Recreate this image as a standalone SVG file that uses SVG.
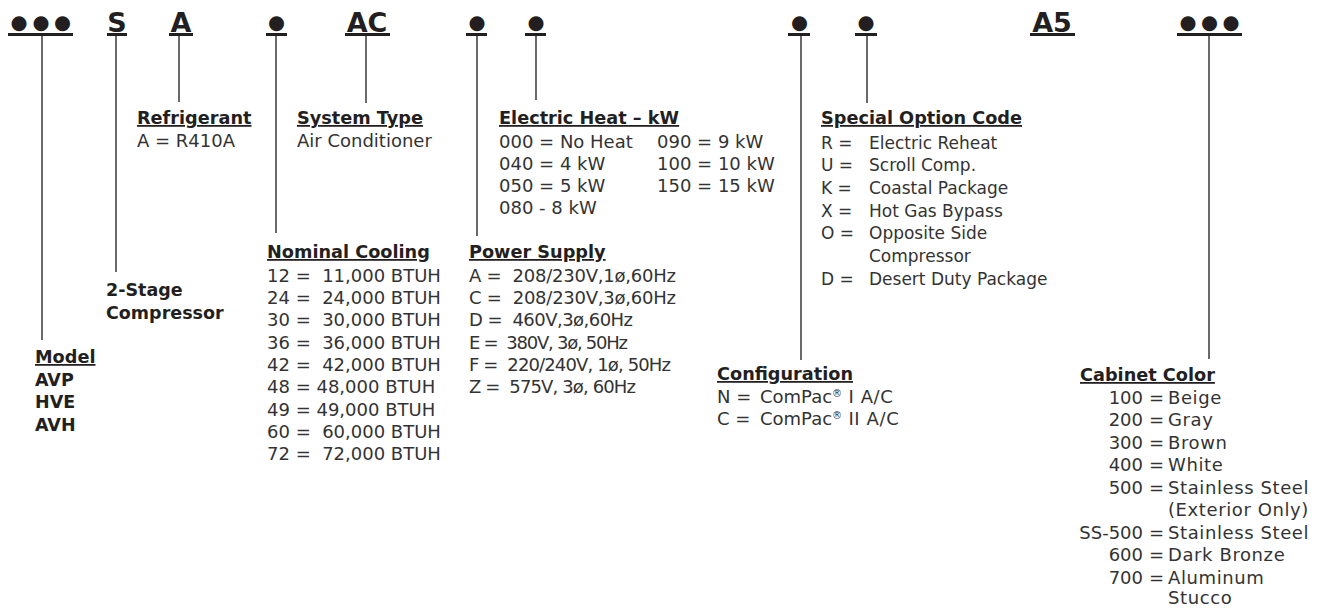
<svg xmlns="http://www.w3.org/2000/svg" width="1325" height="608" viewBox="0 0 1325 608">
<style>
.code{font-family:"DejaVu Sans",Verdana,sans-serif;font-weight:bold;font-size:27px;fill:#231f20;text-anchor:middle}
.dot{font-family:"DejaVu Sans",sans-serif;font-size:19.5px;fill:#231f20;text-anchor:middle}
.ul{fill:#231f20}
.conn line{stroke:#444;stroke-width:1.6}
.h{font-family:"DejaVu Sans",Verdana,sans-serif;font-weight:bold;font-size:17.7px;fill:#231f20;text-decoration:underline}
.b{font-family:"DejaVu Sans",Verdana,sans-serif;font-weight:bold;font-size:17.5px;fill:#231f20}
.t{font-family:"DejaVu Sans",Verdana,sans-serif;font-size:18px;fill:#333;white-space:pre}
.s{font-size:17px}
.w{letter-spacing:0.6px}
.r{text-anchor:end}
.sup{font-size:10px}
</style>
<rect width="1325" height="608" fill="#fff"/>
<g id="codes">
<text class="dot" x="19 41 62.5" y="28.5">●●●</text><rect class="ul" x="8" y="33" width="65" height="3"/>
<text class="code" x="117" y="32">S</text><rect class="ul" x="107" y="33" width="20" height="3"/>
<text class="code" x="181" y="32">A</text><rect class="ul" x="169" y="33" width="24" height="3"/>
<text class="dot" x="276.5" y="28.5">●</text><rect class="ul" x="266" y="33" width="21" height="3"/>
<text class="code" x="367" y="32">AC</text><rect class="ul" x="345" y="33" width="45" height="3"/>
<text class="dot" x="477" y="28.5">●</text><rect class="ul" x="466" y="33" width="21" height="3"/>
<text class="dot" x="536" y="28.5">●</text><rect class="ul" x="525" y="33" width="21" height="3"/>
<text class="dot" x="799.5" y="28.5">●</text><rect class="ul" x="788" y="33" width="22" height="3"/>
<text class="dot" x="866" y="28.5">●</text><rect class="ul" x="855" y="33" width="22" height="3"/>
<text class="code" x="1052" y="32">A5</text><rect class="ul" x="1030" y="33" width="45" height="3"/>
<text class="dot" x="1188 1209.5 1231" y="28.5">●●●</text><rect class="ul" x="1177" y="33" width="65" height="3"/>
</g>
<g id="connectors" class="conn">
<line x1="42" y1="36" x2="42" y2="340"/>
<line x1="116" y1="36" x2="116" y2="272"/>
<line x1="179" y1="36" x2="179" y2="102"/>
<line x1="276" y1="36" x2="276" y2="233"/>
<line x1="366" y1="36" x2="366" y2="103"/>
<line x1="477" y1="36" x2="477" y2="236"/>
<line x1="536" y1="36" x2="536" y2="100"/>
<line x1="801" y1="36" x2="801" y2="360"/>
<line x1="867" y1="36" x2="867" y2="103"/>
<line x1="1209" y1="36" x2="1209" y2="359"/>
</g>
<g id="model">
<text class="h" x="35" y="363">Model</text>
<text class="b" x="35" y="386">AVP</text>
<text class="b" x="35" y="408">HVE</text>
<text class="b" x="35" y="431">AVH</text>
</g>
<g id="stage">
<text class="b" x="106" y="296">2-Stage</text>
<text class="b" x="106" y="319">Compressor</text>
</g>
<g id="refrigerant">
<text class="h" x="137" y="124">Refrigerant</text>
<text class="t" x="137" y="147">A = R410A</text>
</g>
<g id="system-type">
<text class="h" x="297" y="124">System Type</text>
<text class="t" x="297" y="147">Air Conditioner</text>
</g>
<g id="nominal-cooling">
<text class="h" x="267" y="258">Nominal Cooling</text>
<text class="t" x="267" y="282">12 =  11,000 BTUH</text>
<text class="t" x="267" y="304">24 =  24,000 BTUH</text>
<text class="t" x="267" y="326">30 =  30,000 BTUH</text>
<text class="t" x="267" y="349">36 =  36,000 BTUH</text>
<text class="t" x="267" y="371">42 =  42,000 BTUH</text>
<text class="t" x="267" y="393">48 = 48,000 BTUH</text>
<text class="t" x="267" y="416">49 = 49,000 BTUH</text>
<text class="t" x="267" y="438">60 =  60,000 BTUH</text>
<text class="t" x="267" y="460">72 =  72,000 BTUH</text>
</g>
<g id="electric-heat">
<text class="h" x="499" y="124">Electric Heat – kW</text>
<text class="t" x="499" y="148">000 = No Heat</text>
<text class="t" x="499" y="170">040 = 4 kW</text>
<text class="t" x="499" y="192">050 = 5 kW</text>
<text class="t" x="499" y="214">080 - 8 kW</text>
<text class="t" x="657" y="148">090 = 9 kW</text>
<text class="t" x="657" y="170">100 = 10 kW</text>
<text class="t" x="657" y="192">150 = 15 kW</text>
</g>
<g id="power-supply">
<text class="h" x="469" y="258">Power Supply</text>
<text class="t" x="469" y="282" textLength="207">A =  208/230V,1ø,60Hz</text>
<text class="t" x="469" y="304" textLength="207">C =  208/230V,3ø,60Hz</text>
<text class="t" x="469" y="326" textLength="164">D =  460V,3ø,60Hz</text>
<text class="t" x="469" y="349" textLength="159">E =  380V, 3ø, 50Hz</text>
<text class="t" x="469" y="371" textLength="202">F =  220/240V, 1ø, 50Hz</text>
<text class="t" x="469" y="393" textLength="167">Z =  575V, 3ø, 60Hz</text>
</g>
<g id="special-option">
<text class="h" x="821" y="124">Special Option Code</text>
<text class="t s" x="821" y="149">R =</text><text class="t s" x="869" y="149">Electric Reheat</text>
<text class="t s" x="821" y="171">U =</text><text class="t s" x="869" y="171">Scroll Comp.</text>
<text class="t s" x="821" y="194">K =</text><text class="t s" x="869" y="194">Coastal Package</text>
<text class="t s" x="821" y="217">X =</text><text class="t s" x="869" y="217">Hot Gas Bypass</text>
<text class="t s" x="821" y="239">O =</text><text class="t s" x="869" y="239">Opposite Side</text>
<text class="t s" x="869" y="262">Compressor</text>
<text class="t s" x="821" y="285">D =</text><text class="t s" x="869" y="285">Desert Duty Package</text>
</g>
<g id="configuration">
<text class="h" x="717" y="380">Configuration</text>
<text class="t" x="717" y="403">N = <tspan x="760">ComPac</tspan><tspan class="sup" dy="-6">®</tspan><tspan dy="6" class="w"> I A/C</tspan></text>
<text class="t" x="717" y="425">C = <tspan x="760">ComPac</tspan><tspan class="sup" dy="-6">®</tspan><tspan dy="6" class="w"> II A/C</tspan></text>
</g>
<g id="cabinet-color">
<text class="h" x="1080" y="381">Cabinet Color</text>
<text class="t r" x="1143" y="404">100</text><text class="t" x="1149" y="404">=</text><text class="t w" x="1168" y="404">Beige</text>
<text class="t r" x="1143" y="426">200</text><text class="t" x="1149" y="426">=</text><text class="t w" x="1168" y="426">Gray</text>
<text class="t r" x="1143" y="449">300</text><text class="t" x="1149" y="449">=</text><text class="t w" x="1168" y="449">Brown</text>
<text class="t r" x="1143" y="471">400</text><text class="t" x="1149" y="471">=</text><text class="t w" x="1168" y="471">White</text>
<text class="t r" x="1143" y="494">500</text><text class="t" x="1149" y="494">=</text><text class="t w" x="1168" y="494">Stainless Steel</text>
<text class="t w" x="1168" y="516">(Exterior Only)</text>
<text class="t r" x="1143" y="539">SS-500</text><text class="t" x="1149" y="539">=</text><text class="t w" x="1168" y="539">Stainless Steel</text>
<text class="t r" x="1143" y="561">600</text><text class="t" x="1149" y="561">=</text><text class="t w" x="1168" y="561">Dark Bronze</text>
<text class="t r" x="1143" y="584">700</text><text class="t" x="1149" y="584">=</text><text class="t w" x="1168" y="584">Aluminum</text>
<text class="t w" x="1168" y="604">Stucco</text>
</g>
</svg>
